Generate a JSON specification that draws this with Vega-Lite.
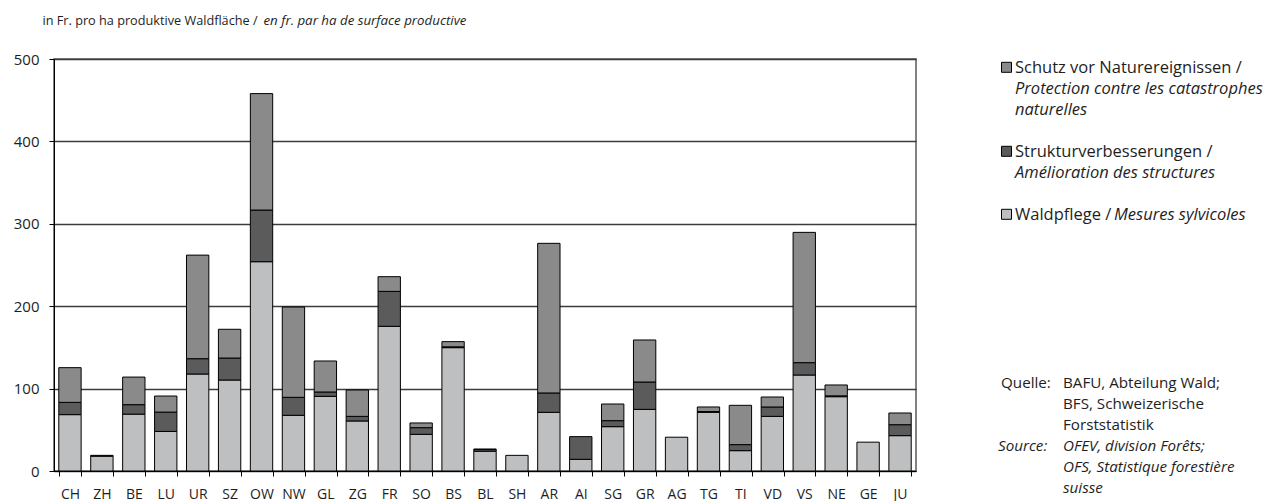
{
  "$schema": "https://vega.github.io/schema/vega-lite/v6.json",
  "padding": {"left": 12, "top": 12, "right": 0, "bottom": 0},
  "bounds": "flush",
  "spacing": 85,
  "config": {
    "font": "Open Sans",
    "text": {"color": "#1e1e1e"},
    "axis": {"labelColor": "#1e1e1e", "titleColor": "#1e1e1e", "labelFont": "Open Sans", "titleFont": "Open Sans"}
  },
  "datasets": {
    "balken": [
      {"kanton": "CH", "massnahme": "Waldpflege", "wert": 68.4},
      {"kanton": "CH", "massnahme": "Strukturverbesserungen", "wert": 14.9},
      {"kanton": "CH", "massnahme": "Schutz vor Naturereignissen", "wert": 42.1},
      {"kanton": "ZH", "massnahme": "Waldpflege", "wert": 18},
      {"kanton": "ZH", "massnahme": "Strukturverbesserungen", "wert": 1},
      {"kanton": "BE", "massnahme": "Waldpflege", "wert": 69},
      {"kanton": "BE", "massnahme": "Strukturverbesserungen", "wert": 11.5},
      {"kanton": "BE", "massnahme": "Schutz vor Naturereignissen", "wert": 33.5},
      {"kanton": "LU", "massnahme": "Waldpflege", "wert": 48},
      {"kanton": "LU", "massnahme": "Strukturverbesserungen", "wert": 23.5},
      {"kanton": "LU", "massnahme": "Schutz vor Naturereignissen", "wert": 19.5},
      {"kanton": "UR", "massnahme": "Waldpflege", "wert": 117.7},
      {"kanton": "UR", "massnahme": "Strukturverbesserungen", "wert": 18.6},
      {"kanton": "UR", "massnahme": "Schutz vor Naturereignissen", "wert": 125.7},
      {"kanton": "SZ", "massnahme": "Waldpflege", "wert": 110.4},
      {"kanton": "SZ", "massnahme": "Strukturverbesserungen", "wert": 26.7},
      {"kanton": "SZ", "massnahme": "Schutz vor Naturereignissen", "wert": 34.9},
      {"kanton": "OW", "massnahme": "Waldpflege", "wert": 254},
      {"kanton": "OW", "massnahme": "Strukturverbesserungen", "wert": 62.7},
      {"kanton": "OW", "massnahme": "Schutz vor Naturereignissen", "wert": 141.3},
      {"kanton": "NW", "massnahme": "Waldpflege", "wert": 67.6},
      {"kanton": "NW", "massnahme": "Strukturverbesserungen", "wert": 21.8},
      {"kanton": "NW", "massnahme": "Schutz vor Naturereignissen", "wert": 109.6},
      {"kanton": "GL", "massnahme": "Waldpflege", "wert": 90.6},
      {"kanton": "GL", "massnahme": "Strukturverbesserungen", "wert": 5.3},
      {"kanton": "GL", "massnahme": "Schutz vor Naturereignissen", "wert": 37.6},
      {"kanton": "ZG", "massnahme": "Waldpflege", "wert": 60.7},
      {"kanton": "ZG", "massnahme": "Strukturverbesserungen", "wert": 5.6},
      {"kanton": "ZG", "massnahme": "Schutz vor Naturereignissen", "wert": 32},
      {"kanton": "FR", "massnahme": "Waldpflege", "wert": 175.6},
      {"kanton": "FR", "massnahme": "Strukturverbesserungen", "wert": 42.4},
      {"kanton": "FR", "massnahme": "Schutz vor Naturereignissen", "wert": 17.8},
      {"kanton": "SO", "massnahme": "Waldpflege", "wert": 44.5},
      {"kanton": "SO", "massnahme": "Strukturverbesserungen", "wert": 8.1},
      {"kanton": "SO", "massnahme": "Schutz vor Naturereignissen", "wert": 5.7},
      {"kanton": "BS", "massnahme": "Waldpflege", "wert": 149.7},
      {"kanton": "BS", "massnahme": "Strukturverbesserungen", "wert": 1},
      {"kanton": "BS", "massnahme": "Schutz vor Naturereignissen", "wert": 6.3},
      {"kanton": "BL", "massnahme": "Waldpflege", "wert": 24},
      {"kanton": "BL", "massnahme": "Strukturverbesserungen", "wert": 2},
      {"kanton": "BL", "massnahme": "Schutz vor Naturereignissen", "wert": 0.7},
      {"kanton": "SH", "massnahme": "Waldpflege", "wert": 19},
      {"kanton": "AR", "massnahme": "Waldpflege", "wert": 71.2},
      {"kanton": "AR", "massnahme": "Strukturverbesserungen", "wert": 23.5},
      {"kanton": "AR", "massnahme": "Schutz vor Naturereignissen", "wert": 181.6},
      {"kanton": "AI", "massnahme": "Waldpflege", "wert": 14.2},
      {"kanton": "AI", "massnahme": "Strukturverbesserungen", "wert": 27.5},
      {"kanton": "SG", "massnahme": "Waldpflege", "wert": 53.8},
      {"kanton": "SG", "massnahme": "Strukturverbesserungen", "wert": 7.3},
      {"kanton": "SG", "massnahme": "Schutz vor Naturereignissen", "wert": 20.2},
      {"kanton": "GR", "massnahme": "Waldpflege", "wert": 74.8},
      {"kanton": "GR", "massnahme": "Strukturverbesserungen", "wert": 33.2},
      {"kanton": "GR", "massnahme": "Schutz vor Naturereignissen", "wert": 51},
      {"kanton": "AG", "massnahme": "Waldpflege", "wert": 41},
      {"kanton": "TG", "massnahme": "Waldpflege", "wert": 71.2},
      {"kanton": "TG", "massnahme": "Strukturverbesserungen", "wert": 1},
      {"kanton": "TG", "massnahme": "Schutz vor Naturereignissen", "wert": 5.5},
      {"kanton": "TI", "massnahme": "Waldpflege", "wert": 24.7},
      {"kanton": "TI", "massnahme": "Strukturverbesserungen", "wert": 7.3},
      {"kanton": "TI", "massnahme": "Schutz vor Naturereignissen", "wert": 47.7},
      {"kanton": "VD", "massnahme": "Waldpflege", "wert": 66.3},
      {"kanton": "VD", "massnahme": "Strukturverbesserungen", "wert": 11.4},
      {"kanton": "VD", "massnahme": "Schutz vor Naturereignissen", "wert": 12.1},
      {"kanton": "VS", "massnahme": "Waldpflege", "wert": 116.5},
      {"kanton": "VS", "massnahme": "Strukturverbesserungen", "wert": 15},
      {"kanton": "VS", "massnahme": "Schutz vor Naturereignissen", "wert": 158.1},
      {"kanton": "NE", "massnahme": "Waldpflege", "wert": 90.2},
      {"kanton": "NE", "massnahme": "Strukturverbesserungen", "wert": 1},
      {"kanton": "NE", "massnahme": "Schutz vor Naturereignissen", "wert": 13.2},
      {"kanton": "GE", "massnahme": "Waldpflege", "wert": 35},
      {"kanton": "JU", "massnahme": "Waldpflege", "wert": 42.9},
      {"kanton": "JU", "massnahme": "Strukturverbesserungen", "wert": 13.3},
      {"kanton": "JU", "massnahme": "Schutz vor Naturereignissen", "wert": 14.2}
    ],
    "texte": [
      {"zeile": 0, "teil": "legende", "sprache": "de", "text": "Schutz vor Naturereignissen /", "massnahme": "Schutz vor Naturereignissen"},
      {"zeile": 1, "teil": "legende", "sprache": "fr", "text": "Protection contre les catastrophes"},
      {"zeile": 2, "teil": "legende", "sprache": "fr", "text": "naturelles"},
      {"zeile": 4, "teil": "legende", "sprache": "de", "text": "Strukturverbesserungen /", "massnahme": "Strukturverbesserungen"},
      {"zeile": 5, "teil": "legende", "sprache": "fr", "text": "Amélioration des structures"},
      {"zeile": 7, "teil": "legende", "sprache": "de", "text": "Waldpflege /", "massnahme": "Waldpflege"},
      {"zeile": 7, "teil": "nachsatz", "sprache": "fr", "text": "Mesures sylvicoles"},
      {"zeile": 15, "teil": "quelle-titel", "sprache": "de", "text": "Quelle:"},
      {"zeile": 15, "teil": "quelle", "sprache": "de", "text": "BAFU, Abteilung Wald;"},
      {"zeile": 16, "teil": "quelle", "sprache": "de", "text": "BFS, Schweizerische"},
      {"zeile": 17, "teil": "quelle", "sprache": "de", "text": "Forststatistik"},
      {"zeile": 18, "teil": "quelle-titel", "sprache": "fr", "text": "Source:"},
      {"zeile": 18, "teil": "quelle", "sprache": "fr", "text": "OFEV, division Forêts;"},
      {"zeile": 19, "teil": "quelle", "sprache": "fr", "text": "OFS, Statistique forestière"},
      {"zeile": 20, "teil": "quelle", "sprache": "fr", "text": "suisse"}
    ]
  },
  "hconcat": [
    {
      "width": 862,
      "height": 412,
      "view": {"stroke": "#5a5a5a", "strokeWidth": 1.5},
      "data": {"name": "balken"},
      "mark": {"type": "bar", "stroke": "#000000", "strokeWidth": 1},
      "encoding": {
        "x": {
          "field": "kanton", "type": "nominal",
          "sort": ["CH","ZH","BE","LU","UR","SZ","OW","NW","GL","ZG","FR","SO","BS","BL","SH","AR","AI","SG","GR","AG","TG","TI","VD","VS","NE","GE","JU"],
          "scale": {"paddingInner": 0.3, "paddingOuter": 0.15},
          "axis": {
            "labelAngle": 0, "tickBand": "extent", "tickSize": 5, "tickColor": "#000000",
            "domainColor": "#000000", "domainWidth": 1, "labelPadding": 11, "labelFontSize": 14,
            "title": "en fr. par ha de surface productive", "titleFontStyle": "italic", "titleFontWeight": "normal",
            "titleFontSize": 13.3, "titleAngle": 0, "titleAlign": "left", "titleBaseline": "alphabetic",
            "titleX": 209, "titleY": -447
          }
        },
        "y": {
          "field": "wert", "type": "quantitative", "stack": "zero",
          "scale": {"domain": [0, 500], "nice": false},
          "axis": {
            "values": [0, 100, 200, 300, 400, 500], "grid": true, "gridColor": "#3c3c3c", "gridWidth": 1.3,
            "tickSize": 5, "tickColor": "#000000", "domainColor": "#000000", "domainWidth": 1,
            "labelFontSize": 15, "labelPadding": 10,
            "title": "in Fr. pro ha produktive Waldfläche /", "titleFontWeight": "normal", "titleFontSize": 12.7,
            "titleAngle": 0, "titleAlign": "left", "titleBaseline": "alphabetic", "titleX": -12, "titleY": -35
          }
        },
        "color": {
          "field": "massnahme", "type": "nominal",
          "scale": {"domain": ["Schutz vor Naturereignissen", "Strukturverbesserungen", "Waldpflege"], "range": ["#8a8a8a", "#5b5b5b", "#bebfc1"]},
          "legend": null
        },
        "order": {"field": "massnahme", "sort": "descending"}
      }
    },
    {
      "width": 280,
      "height": 438.6,
      "view": {"stroke": null},
      "data": {"name": "texte"},
      "encoding": {
        "y": {"field": "zeile", "type": "ordinal", "scale": {"type": "point", "domain": [0,1,2,3,4,5,6,7,8,9,10,11,12,13,14,15,16,17,18,19,20], "padding": 0.443}, "axis": null},
        "x": {"value": 0}
      },
      "layer": [
        {
          "transform": [{"filter": "isValid(datum.massnahme)"}],
          "mark": {"type": "point", "shape": "square", "filled": true, "size": 100, "stroke": "#000000", "strokeWidth": 1, "opacity": 1, "yOffset": -1},
          "encoding": {
            "x": {"value": 5.5},
            "color": {"field": "massnahme", "type": "nominal", "legend": null}
          }
        },
        {
          "transform": [{"filter": "datum.teil === 'legende' && datum.sprache === 'de'"}],
          "mark": {"type": "text", "align": "left", "baseline": "middle", "fontSize": 16.5, "dx": 14},
          "encoding": {"text": {"field": "text"}}
        },
        {
          "transform": [{"filter": "datum.teil === 'legende' && datum.sprache === 'fr'"}],
          "mark": {"type": "text", "align": "left", "baseline": "middle", "fontSize": 16.5, "fontStyle": "italic", "dx": 14},
          "encoding": {"text": {"field": "text"}}
        },
        {
          "transform": [{"filter": "datum.teil === 'nachsatz'"}],
          "mark": {"type": "text", "align": "left", "baseline": "middle", "fontSize": 16.5, "fontStyle": "italic", "dx": 113},
          "encoding": {"text": {"field": "text"}}
        },
        {
          "transform": [{"filter": "datum.teil === 'quelle-titel' && datum.sprache === 'de'"}],
          "mark": {"type": "text", "align": "left", "baseline": "middle", "fontSize": 15.2, "dx": 0},
          "encoding": {"text": {"field": "text"}}
        },
        {
          "transform": [{"filter": "datum.teil === 'quelle-titel' && datum.sprache === 'fr'"}],
          "mark": {"type": "text", "align": "left", "baseline": "middle", "fontSize": 15.2, "fontStyle": "italic", "dx": -3},
          "encoding": {"text": {"field": "text"}}
        },
        {
          "transform": [{"filter": "datum.teil === 'quelle' && datum.sprache === 'de'"}],
          "mark": {"type": "text", "align": "left", "baseline": "middle", "fontSize": 15.2, "dx": 62},
          "encoding": {"text": {"field": "text"}}
        },
        {
          "transform": [{"filter": "datum.teil === 'quelle' && datum.sprache === 'fr'"}],
          "mark": {"type": "text", "align": "left", "baseline": "middle", "fontSize": 15.2, "fontStyle": "italic", "dx": 62},
          "encoding": {"text": {"field": "text"}}
        }
      ]
    }
  ]
}
